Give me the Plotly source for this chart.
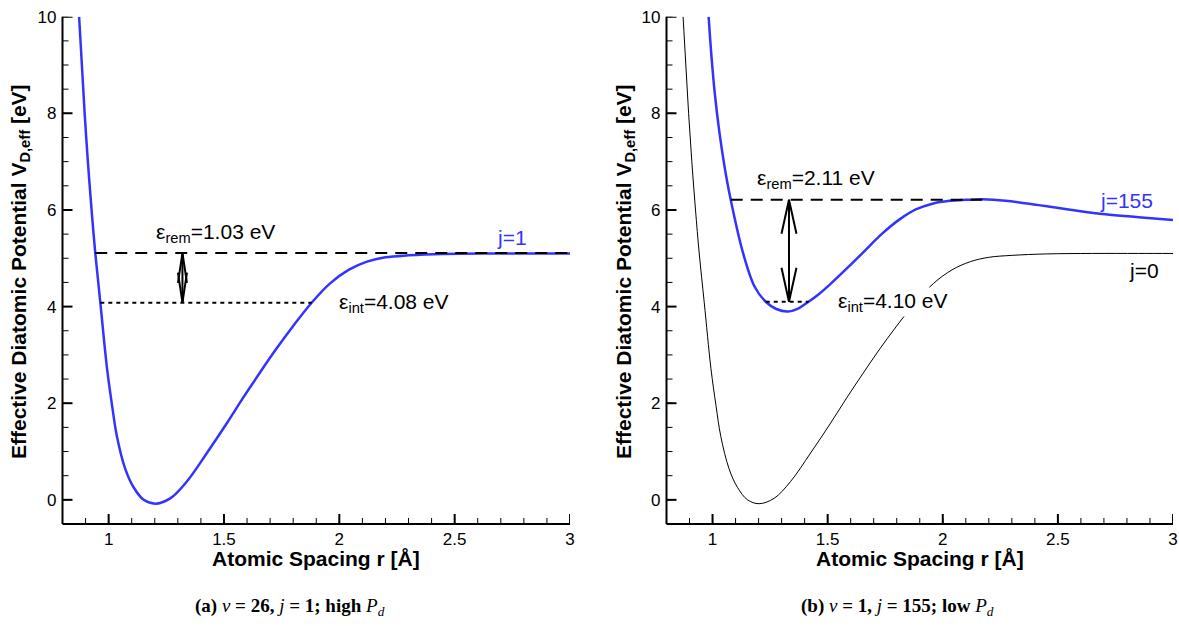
import plotly.graph_objects as go

# Effective diatomic potential, low rotation (j=1 in panel a, j=0 in panel b)
r_low = [0.872, 0.884, 0.896, 0.910, 0.926, 0.942, 0.964, 0.993, 1.015, 1.036,
         1.072, 1.108, 1.152, 1.202, 1.267, 1.339, 1.426, 1.513, 1.584, 1.654,
         1.720, 1.800, 1.880, 1.960, 2.040, 2.120, 2.200, 2.300, 2.450, 2.650,
         2.850, 3.000]
v_low = [10.0, 9.0, 8.0, 7.0, 6.0, 5.11, 4.08, 2.72, 1.95, 1.31,
         0.64, 0.26, 0.00, -0.08, 0.03, 0.38, 0.97, 1.59, 2.12, 2.62,
         3.08, 3.60, 4.08, 4.48, 4.76, 4.93, 5.02, 5.06, 5.09, 5.10,
         5.10, 5.10]

# Effective diatomic potential, high rotation (j=155)
r_high = [0.983, 0.995, 1.010, 1.030, 1.052, 1.079, 1.133, 1.183, 1.231, 1.277,
          1.327, 1.372, 1.417, 1.460, 1.515, 1.590, 1.660, 1.739, 1.811, 1.883,
          1.955, 2.030, 2.100, 2.171, 2.273, 2.417, 2.561, 2.706, 2.850, 3.000]
v_high = [10.0, 9.2, 8.4, 7.6, 6.9, 6.21, 5.10, 4.41, 4.10, 3.95,
          3.90, 3.96, 4.10, 4.25, 4.48, 4.82, 5.15, 5.52, 5.80, 6.01,
          6.13, 6.19, 6.21, 6.22, 6.19, 6.10, 6.00, 5.91, 5.85, 5.79]

# Energy levels (eV)
eps_int_a, eps_rem_a = 4.08, 1.03
eps_int_b, eps_rem_b = 4.10, 2.11

# r-extent of the level lines (intersections with the curves)
int_span_a = [0.964, 1.880]
rem_span_a = [0.942, 3.000]
int_span_b = [1.231, 1.417]
rem_span_b = [1.079, 2.171]

# axis ticks
x_major = [1.0, 1.5, 2.0, 2.5, 3.0]
x_minor = [round(0.8 + 0.1 * i, 1) for i in range(23)]
y_major = [0, 2, 4, 6, 8, 10]
y_minor = [round(-0.5 + 0.5 * i, 1) for i in range(22)]

BLUE = "#3333ff"
SANS = "Liberation Sans, Arial, sans-serif"
SERIF = "Liberation Serif, Times New Roman, serif"
W, H = 1179, 626
X_RANGE = [0.8, 3.0]
Y_RANGE = [-0.5, 10]

fig = go.Figure()

# curves
fig.add_trace(go.Scatter(x=r_low, y=v_low, mode="lines",
                         line=dict(color=BLUE, width=2.5, shape="spline", smoothing=1.0),
                         xaxis="x", yaxis="y", showlegend=False, hoverinfo="skip"))
fig.add_trace(go.Scatter(x=r_low, y=v_low, mode="lines",
                         line=dict(color="black", width=1, shape="spline", smoothing=1.0),
                         xaxis="x2", yaxis="y2", showlegend=False, hoverinfo="skip"))
fig.add_trace(go.Scatter(x=r_high, y=v_high, mode="lines",
                         line=dict(color=BLUE, width=2.5, shape="spline", smoothing=1.0),
                         xaxis="x2", yaxis="y2", showlegend=False, hoverinfo="skip"))

# level lines
def level(span, val, dash, xa, ya):
    fig.add_trace(go.Scatter(x=span, y=[val, val], mode="lines",
                             line=dict(color="black", width=2, dash=dash),
                             xaxis=xa, yaxis=ya, showlegend=False, hoverinfo="skip"))

level(rem_span_a, eps_int_a + eps_rem_a, "12px,8px", "x", "y")
level(int_span_a, eps_int_a, "4px,4px", "x", "y")
level(rem_span_b, eps_int_b + eps_rem_b, "12px,8px", "x2", "y2")
level(int_span_b, eps_int_b, "4px,4px", "x2", "y2")

# double-headed arrows between the levels
px_per_r = (570 - 62.5) / 2.2
px_per_v = (524 - 16.7) / 10.5

def dbl_arrow(r0, lo, hi, xa, ya, head_len_px, head_half_px):
    dy = head_len_px / px_per_v
    dx = head_half_px / px_per_r
    line = dict(color="black", width=2)
    fig.add_shape(type="line", x0=r0, x1=r0, y0=lo, y1=hi, xref=xa, yref=ya, line=line)
    fig.add_shape(type="path", xref=xa, yref=ya, line=line,
                  path=f"M {r0-dx},{hi-dy} L {r0},{hi} L {r0+dx},{hi-dy}")
    fig.add_shape(type="path", xref=xa, yref=ya, line=line,
                  path=f"M {r0-dx},{lo+dy} L {r0},{lo} L {r0+dx},{lo+dy}")

dbl_arrow(1.320, eps_int_a, eps_int_a + eps_rem_a, "x", "y", 30, 4.5)
dbl_arrow(1.332, eps_int_b, eps_int_b + eps_rem_b, "x2", "y2", 34, 7.5)

# axis lines and inward ticks
def frame(xa, ya):
    xd, yd = f"{xa} domain", f"{ya} domain"
    axis_line = dict(color="black", width=2)
    fig.add_shape(type="line", xref=xd, yref=yd, x0=0, x1=0, y0=0, y1=1, line=axis_line)
    fig.add_shape(type="line", xref=xd, yref=yd, x0=0, x1=1, y0=0, y1=0, line=axis_line)
    for vals, ln, wd in [(x_minor, 6, 1), (x_major, 10, 2)]:
        for v in vals:
            fig.add_shape(type="line", xref=xa, yref=yd, x0=v, x1=v, ysizemode="pixel",
                          yanchor=0, y0=0, y1=ln, line=dict(color="black", width=wd))
    for vals, ln, wd in [(y_minor, 6, 1), (y_major, 10, 2)]:
        for v in vals:
            fig.add_shape(type="line", xref=xd, yref=ya, y0=v, y1=v, xsizemode="pixel",
                          xanchor=0, x0=0, x1=ln, line=dict(color="black", width=wd))

frame("x", "y")
frame("x2", "y2")

ann_font = dict(family=SANS, size=21, color="black")
C = dict(xanchor="center", yanchor="middle", showarrow=False)
annotations = [
    dict(x=1.463, y=5.52, xref="x", yref="y", text=f"ε<sub>rem</sub>={eps_rem_a:.2f} eV",
         font=ann_font, **C),
    dict(x=1.99, y=eps_int_a, xref="x", yref="y", text=f"ε<sub>int</sub>={eps_int_a:.2f} eV",
         font=ann_font, xanchor="left", yanchor="middle", showarrow=False),
    dict(x=2.75, y=5.42, xref="x", yref="y", text="j=1",
         font=dict(family=SANS, size=21, color=BLUE), **C),
    dict(x=1.45, y=6.64, xref="x2", yref="y2", text=f"ε<sub>rem</sub>={eps_rem_b:.2f} eV",
         font=ann_font, **C),
    dict(x=1.535, y=eps_int_b, xref="x2", yref="y2", text=f"ε<sub>int</sub>={eps_int_b:.2f} eV",
         font=ann_font, xanchor="left", yanchor="middle", showarrow=False,
         bgcolor="white", borderpad=1),
    dict(x=2.80, y=6.19, xref="x2", yref="y2", text="j=155",
         font=dict(family=SANS, size=21, color=BLUE), **C),
    dict(x=2.872, y=4.74, xref="x2", yref="y2", text="j=0", font=ann_font, **C),
]

title_font = dict(family=SANS, size=21, color="black")
xt = "<b>Atomic Spacing r [Å]</b>"
yt = "<b>Effective Diatomic Potential V<sub>D,eff</sub> [eV]</b>"
for cx in [(62.5 + 570) / 2, (666.5 + 1173) / 2]:
    annotations.append(dict(x=cx / W, y=1 - 558 / H, xref="paper", yref="paper", text=xt,
                            font=title_font, **C))
for cx in [20, 625]:
    annotations.append(dict(x=cx / W, y=1 - 272 / H, xref="paper", yref="paper", text=yt,
                            font=title_font, textangle=-90, **C))

cap_font = dict(family=SERIF, size=19, color="black")
annotations.append(dict(x=290 / W, y=1 - 607 / H, xref="paper", yref="paper", font=cap_font,
                        text="<b>(a)</b> <i>v</i> <b>= 26,</b> <i>j</i> <b>= 1; high</b> <i>P<sub>d</sub></i>",
                        **C))
annotations.append(dict(x=897 / W, y=1 - 607 / H, xref="paper", yref="paper", font=cap_font,
                        text="<b>(b)</b> <i>v</i> <b>= 1,</b> <i>j</i> <b>= 155; low</b> <i>P<sub>d</sub></i>",
                        **C))

tick_font = dict(family=SANS, size=17, color="black")
common = dict(showgrid=False, zeroline=False, automargin=False, showline=False, ticks="",
              tickfont=tick_font)

def xaxis(dom, anchor):
    return dict(domain=dom, anchor=anchor, range=X_RANGE, tickmode="array",
                tickvals=x_major, ticktext=[f"{v:g}" for v in x_major],
                ticklabelstandoff=3, **common)

def yaxis(anchor):
    return dict(domain=[1 - 524 / H, 1 - 16.7 / H], anchor=anchor, range=Y_RANGE,
                tickmode="array", tickvals=y_major, ticktext=[str(v) for v in y_major],
                ticklabelstandoff=5, **common)

fig.update_layout(
    template="none",
    width=W, height=H, margin=dict(l=0, r=0, t=0, b=0, autoexpand=False),
    paper_bgcolor="white", plot_bgcolor="white",
    xaxis=xaxis([62.5 / W, 570 / W], "y"),
    yaxis=yaxis("x"),
    xaxis2=xaxis([666.5 / W, 1173 / W], "y2"),
    yaxis2=yaxis("x2"),
    annotations=annotations,
)

fig.write_html("out.html")
